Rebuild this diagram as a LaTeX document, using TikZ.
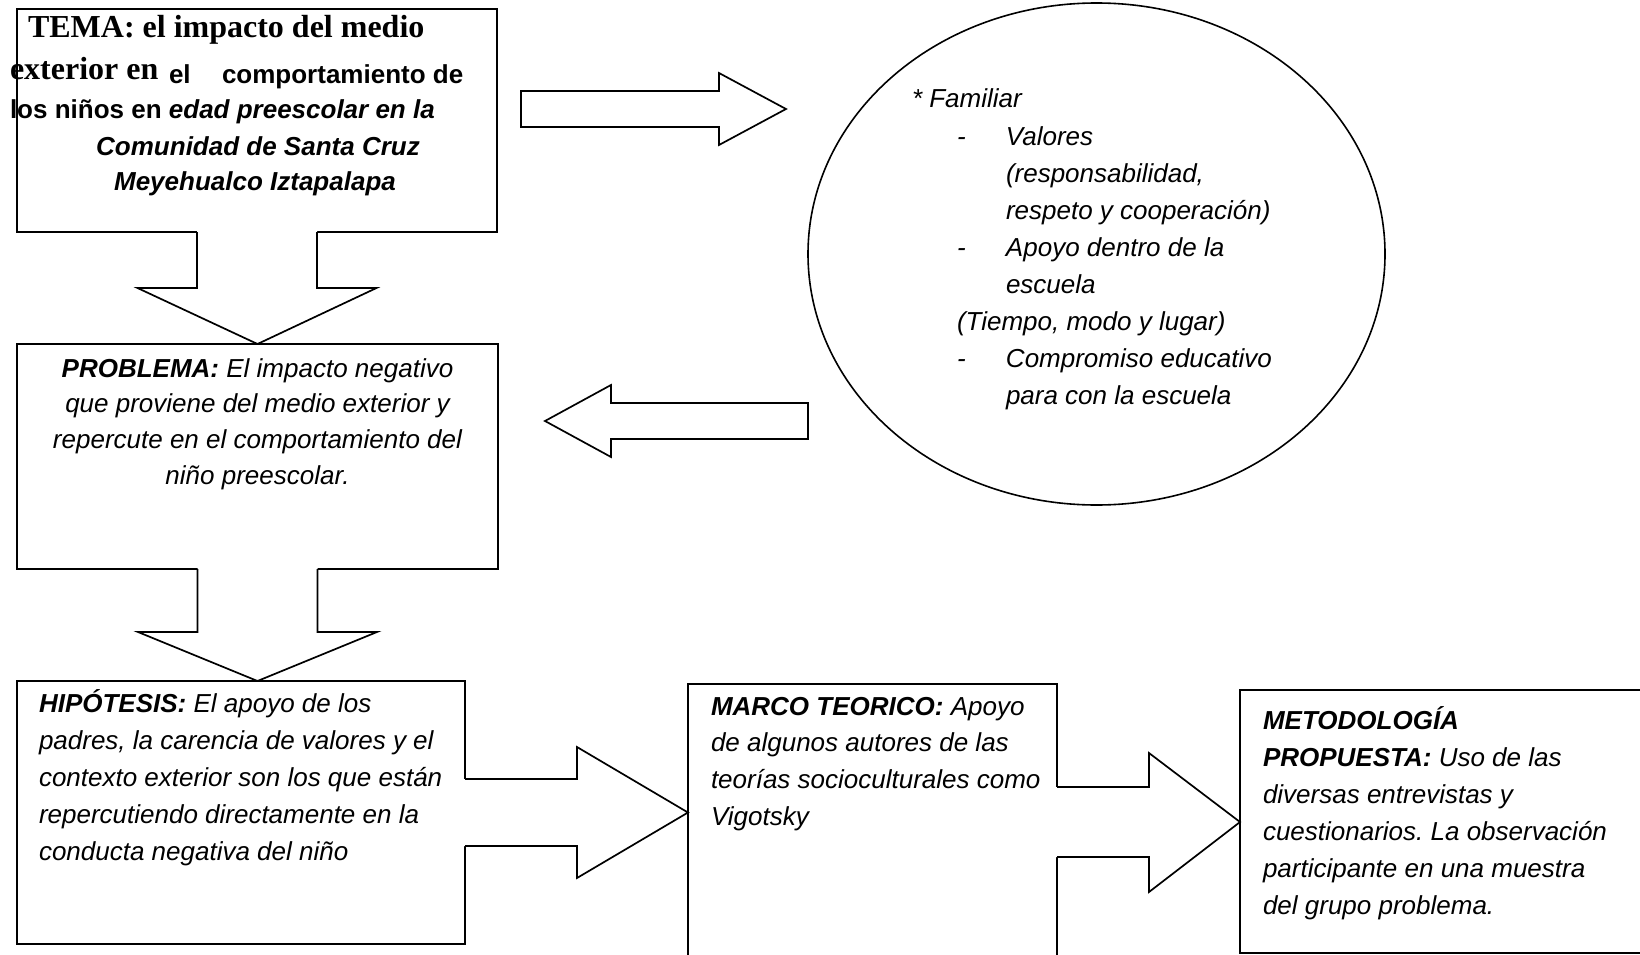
\documentclass[tikz,border=0pt]{standalone}
\usepackage{fontspec}
\setmainfont{Liberation Sans}
\newfontfamily\tnr{Liberation Serif}
\usetikzlibrary{shapes.geometric,calc}
\frenchspacing
\newcommand\blines[2]{\vtop{\baselineskip=#1pt\relax\lineskiplimit=-100pt\relax #2}}
\newcommand\dashitem{\hbox to 94pt{\kern45pt -\hfil}}
\begin{document}
\begin{tikzpicture}[x=1pt,y=-1pt,
  box/.style={draw, line width=2pt, rectangle, inner sep=0pt, outer sep=0pt, anchor=north west},
  arrowline/.style={draw, line width=1.7pt, line join=miter},
  txt/.style={inner sep=0pt, outer sep=0pt, anchor=base west, font=\fontsize{26}{36}\selectfont\itshape},
  temasans/.style={inner sep=0pt, outer sep=0pt, anchor=base west, font=\fontsize{26}{30}\selectfont\bfseries},
  temaserif/.style={inner sep=0pt, outer sep=0pt, anchor=base west, font=\tnr\fontsize{32}{34}\selectfont\bfseries}]
\useasboundingbox (0,0) rectangle (1640,955);
\clip (0,0) rectangle (1640,955);

% boxes
\node[box, minimum width=480pt, minimum height=223pt] (tema) at (17,9) {};
\node[box, minimum width=481pt, minimum height=225pt] (problem) at (17,344) {};
\node[box, minimum width=448pt, minimum height=263pt] (hyp) at (17,681) {};
\node[box, minimum width=369pt, minimum height=320pt] (marco) at (688,684) {};
\node[box, minimum width=430pt, minimum height=263pt] (metod) at (1240,690) {};
\node[draw, ellipse, line width=1.6pt, inner sep=0pt, minimum width=577pt, minimum height=502pt] (fam) at (1096.5,254) {};

% named tips
\coordinate (t1) at (786,109);
\coordinate (tl) at (545,421);
\coordinate (t2) at (688,812.5);
\coordinate (t3) at (1240,822);

% right arrow 1 (tema -> familiar)
\path[arrowline, fill=white] (521,91) -- (719,91) -- (719,73) -- (t1) -- (719,145) -- (719,127) -- (521,127) -- cycle;
% left arrow (familiar -> problema)
\path[arrowline, fill=white] (808,403) -- (611,403) -- (611,385) -- (tl) -- (611,457) -- (611,439) -- (808,439) -- cycle;

% down arrow 1
\fill[white] ($(tema.south)+(-60,-4)$) -- ($(tema.south)+(-60,56)$) -- ($(tema.south)+(-119.5,56)$) -- (problem.north) -- ($(tema.south)+(119.5,56)$) -- ($(tema.south)+(60,56)$) -- ($(tema.south)+(60,-4)$) -- cycle;
\draw[arrowline] ($(tema.south)+(-60,0)$) -- ($(tema.south)+(-60,56)$) -- ($(tema.south)+(-119.5,56)$) -- (problem.north) -- ($(tema.south)+(119.5,56)$) -- ($(tema.south)+(60,56)$) -- ($(tema.south)+(60,0)$);

% down arrow 2
\coordinate (t4) at (problem.south |- hyp.north);
\fill[white] ($(problem.south)+(-60,-4)$) -- ($(problem.south)+(-60,63)$) -- ($(problem.south)+(-119.5,63)$) -- (t4) -- ($(problem.south)+(119.5,63)$) -- ($(problem.south)+(60,63)$) -- ($(problem.south)+(60,-4)$) -- cycle;
\draw[arrowline] ($(problem.south)+(-60,0)$) -- ($(problem.south)+(-60,63)$) -- ($(problem.south)+(-119.5,63)$) -- (t4) -- ($(problem.south)+(119.5,63)$) -- ($(problem.south)+(60,63)$) -- ($(problem.south)+(60,0)$);

% right arrow 2 (hyp -> marco)
\fill[white] (461,779) -- (577,779) -- (577,747) -- (t2) -- (577,878) -- (577,846) -- (461,846) -- cycle;
\draw[arrowline] (hyp.east |- 0,779) -- (577,779) -- (577,747) -- (t2) -- (577,878) -- (577,846) -- (hyp.east |- 0,846);

% right arrow 3 (marco -> metod)
\fill[white] (1053,787) -- (1149,787) -- (1149,753) -- (t3) -- (1149,892) -- (1149,857) -- (1053,857) -- cycle;
\draw[arrowline] (marco.east |- 0,787) -- (1149,787) -- (1149,753) -- (t3) -- (1149,892) -- (1149,857) -- (marco.east |- 0,857);

% TEMA text
\node[temaserif] (tema1) at (28,38) {TEMA: el impacto del medio};
\node[temaserif] (tema2a) at (10,80) {exterior en};
\node[temasans] (tema2b) at (169,84) {el};
\node[temasans] (tema2c) at (222,84) {comportamiento de};
\node[temasans] (tema3) at (10,119) {los niños en \itshape edad preescolar en la};
\node[temasans, anchor=base] (tema4) at (258,155) {\itshape Comunidad de Santa Cruz};
\node[temasans, anchor=base] (tema5) at (255,190) {\itshape Meyehualco Iztapalapa};

% PROBLEMA text
\node[txt] (problemtxt) at (17,377) {\blines{35.8}{%
\hbox to 481pt{\hfil{\bfseries PROBLEMA:} El impacto negativo\hfil}
\hbox to 481pt{\hfil que proviene del medio exterior y\hfil}
\hbox to 481pt{\hfil repercute en el comportamiento del\hfil}
\hbox to 481pt{\hfil niño preescolar.\hfil}}};

% Familiar text
\node[txt] (famtxt) at (912,108) {\blines{37.1}{%
\hbox{* Familiar}
\hbox{\dashitem Valores}
\hbox{\kern94pt (responsabilidad,}
\hbox{\kern94pt respeto y cooperación)}
\hbox{\dashitem Apoyo dentro de la}
\hbox{\kern94pt escuela}
\hbox{\kern45pt (Tiempo, modo y lugar)}
\hbox{\dashitem Compromiso educativo}
\hbox{\kern94pt para con la escuela}}};

% HIPOTESIS text
\node[txt] (hyptxt) at (39,712) {\blines{37}{%
\hbox{{\bfseries HIPÓTESIS:} El apoyo de los}
\hbox{padres, la carencia de valores y el}
\hbox{contexto exterior son los que están}
\hbox{repercutiendo directamente en la}
\hbox{conducta negativa del niño}}};

% MARCO text
\node[txt] (marcotxt) at (711,715) {\blines{36.8}{%
\hbox{{\bfseries MARCO TEORICO:} Apoyo}
\hbox{de algunos autores de las}
\hbox{teorías socioculturales como}
\hbox{Vigotsky}}};

% METODOLOGIA text
\node[txt] (metodtxt) at (1263,729) {\blines{37}{%
\hbox{\bfseries METODOLOGÍA}
\hbox{{\bfseries PROPUESTA:} Uso de las}
\hbox{diversas entrevistas y}
\hbox{cuestionarios. La observación}
\hbox{participante en una muestra}
\hbox{del grupo problema.}}};
\end{tikzpicture}
\end{document}
